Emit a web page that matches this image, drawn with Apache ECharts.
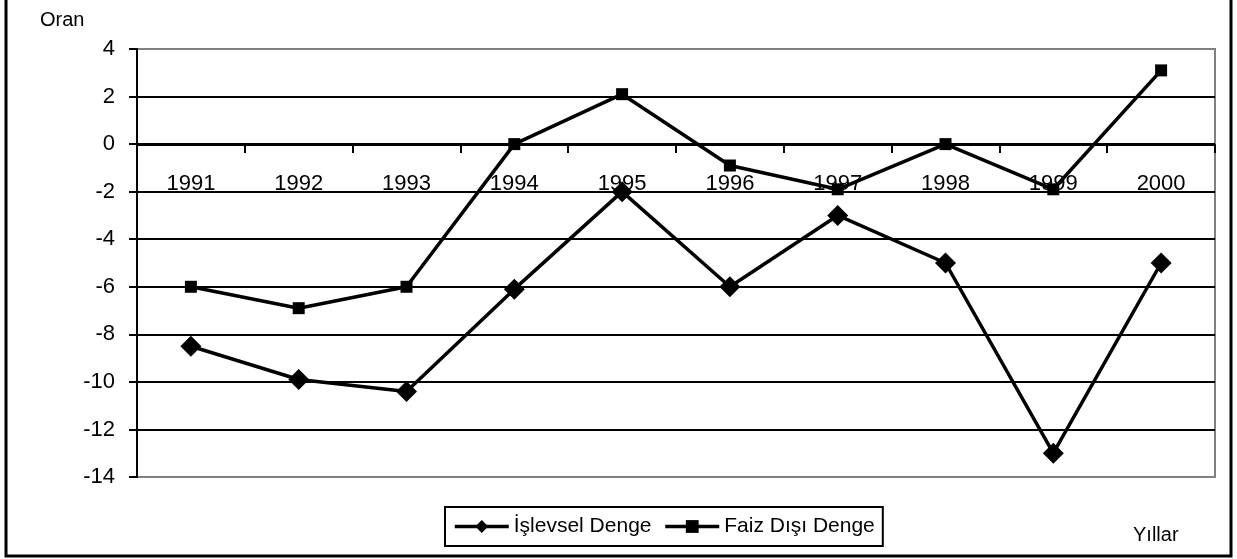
<!DOCTYPE html>
<html>
<head>
<meta charset="utf-8">
<script src="https://cdn.jsdelivr.net/npm/echarts@6/dist/echarts.min.js"></script>
<style>
  html, body { margin: 0; padding: 0; background: #fff; }
  #chart { width: 1237px; height: 559px; }
</style>
</head>
<body>
<div id="chart"></div>
<script>
// yıllar (kategori ekseni)
var years = ["1991", "1992", "1993", "1994", "1995", "1996", "1997", "1998", "1999", "2000"];
// İşlevsel Denge
var islevsel = [-8.5, -9.9, -10.4, -6.1, -2, -6, -3, -5, -13, -5];
// Faiz Dışı Denge
var faizDisi = [-6, -6.9, -6, 0, 2.1, -0.9, -1.9, 0, -1.9, 3.1];

var font = "'Liberation Sans', Arial, sans-serif";

var chart = echarts.init(document.getElementById("chart"));

var option = {
    animation: false,
    backgroundColor: "#fff",
    textStyle: { fontFamily: font, color: "#000" },
    grid: {
        left: 137,
        top: 49,
        right: 22,
        bottom: 82,
        show: true,
        borderColor: "#808080",
        borderWidth: 2,
    },
    legend: {
        left: 445,
        top: 507,
        orient: "horizontal",
        padding: [9, 8, 9, 8],
        borderColor: "#000",
        borderWidth: 2,
        itemWidth: 54,
        itemHeight: 16,
        itemGap: 12,
        lineStyle: { width: 3.5 },
        textStyle: { fontSize: 21, fontFamily: font, color: "#000" },
        data: ["İşlevsel Denge", "Faiz Dışı Denge"],
    },
    xAxis: {
        type: "category",
        data: years,
        boundaryGap: true,
        // eksen çizgisi sıfır seviyesinde: 477 - 145 = 332
        offset: -332,
        axisLine: { onZero: false, lineStyle: { color: "#000", width: 2 } },
        axisTick: { show: true, inside: false, length: 8, lineStyle: { color: "#000", width: 2 } },
        axisLabel: { margin: 28, fontSize: 22, color: "#000", fontFamily: font, interval: 0 },
        splitLine: { show: false },
    },
    yAxis: {
        type: "value",
        min: -14,
        max: 4,
        interval: 2,
        axisLine: { show: true, lineStyle: { color: "#000", width: 2 } },
        axisTick: { show: true, length: 8, lineStyle: { color: "#000", width: 2 } },
        axisLabel: { margin: 22, fontSize: 22, color: "#000", fontFamily: font },
        splitLine: {
            show: true,
            lineStyle: {
                // alt ve üst kenar gri, aradaki çizgiler siyah
                color: ["#808080", "#000", "#000", "#000", "#000", "#000", "#000", "#000", "#000", "#808080"],
                width: 2,
            },
        },
    },
    graphic: [
        {
            type: "rect",
            shape: { x: 6, y: -6, width: 1225, height: 562 },
            style: { fill: "none", stroke: "#000", lineWidth: 3 },
            z: 100,
        },
        {
            type: "text",
            left: 40,
            top: 10,
            style: { text: "Oran", fontSize: 20, fontFamily: font, fill: "#000" },
        },
        {
            type: "text",
            left: 1133,
            top: 525,
            style: { text: "Yıllar", fontSize: 20, fontFamily: font, fill: "#000" },
        },
    ],
    series: [
        {
            name: "İşlevsel Denge",
            type: "line",
            data: islevsel,
            symbol: "diamond",
            symbolSize: 21,
            lineStyle: { color: "#000", width: 3.5 },
            itemStyle: { color: "#000" },
            z: 3,
        },
        {
            name: "Faiz Dışı Denge",
            type: "line",
            data: faizDisi,
            symbol: "rect",
            symbolSize: 12,
            lineStyle: { color: "#000", width: 3.5 },
            itemStyle: { color: "#000" },
            z: 3,
        },
    ],
};

chart.setOption(option);
</script>
</body>
</html>
